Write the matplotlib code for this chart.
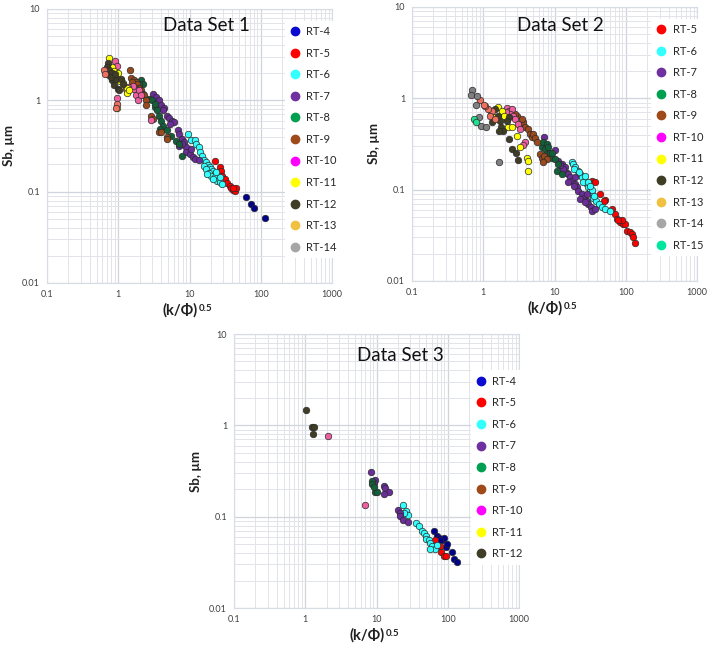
import matplotlib
matplotlib.use("Agg")
import matplotlib.pyplot as plt
from matplotlib.lines import Line2D
from matplotlib.ticker import LogLocator, NullFormatter

plt.rcParams["font.family"] = ["Lato", "DejaVu Sans"]

# ---- Data Set 1 ----
ds1_names = ["RT-4", "RT-5", "RT-6", "RT-7", "RT-8", "RT-9", "RT-10", "RT-11", "RT-12", "RT-13", "RT-14"]
ds1_rt4_x = [61.5, 74, 79.6, 114]
ds1_rt4_y = [0.087, 0.073, 0.067, 0.052]
ds1_rt5_x = [22.5, 27.1, 27.3, 28.8, 31.1, 33.9, 36.5, 38.6, 40.7, 43, 45.4, 40.7]
ds1_rt5_y = [0.214, 0.188, 0.170, 0.150, 0.138, 0.124, 0.116, 0.110, 0.103, 0.101, 0.110, 0.109]
ds1_rt6_x = [9.5, 10.6, 11.8, 12.4, 13.5, 14.1, 14.8, 15.8, 17.2, 18.1, 19.1, 20.2, 21.3,
             15.8, 17.2, 18.7, 20.2, 22.5, 24.2, 26.5, 28.8, 26.5, 23.3, 21.3, 17.5]
ds1_rt6_y = [0.423, 0.37, 0.37, 0.334, 0.307, 0.27, 0.248, 0.223, 0.21, 0.197, 0.185, 0.178, 0.168,
             0.193, 0.178, 0.16, 0.15, 0.144, 0.132, 0.127, 0.121, 0.144, 0.163, 0.138, 0.155]
ds1_rt7_x = [3.11, 3.4, 3.7, 4.0, 4.4, 4.2, 4.9, 5.2, 5.7, 6.1, 5.3, 6.8, 7.2, 7.9, 8.5, 9.0,
             9.0, 10, 11.1, 12.1, 10.6, 13.8, 7.9, 7.2]
ds1_rt7_y = [1.18, 1.09, 1.0, 0.90, 0.83, 0.78, 0.68, 0.64, 0.60, 0.58, 0.55, 0.47, 0.43, 0.38, 0.35, 0.31,
             0.27, 0.26, 0.24, 0.23, 0.29, 0.22, 0.33, 0.32]
ds1_rt8_x = [2.08, 2.2, 1.98, 2.7, 2.96, 3.3, 3.5, 3.7, 4.0, 4.2, 4.9, 5.5, 6.5, 7.2, 7.9, 3.3, 3.9]
ds1_rt8_y = [1.66, 1.52, 1.52, 1.04, 1.0, 0.85, 0.78, 0.68, 0.60, 0.53, 0.47, 0.41, 0.36, 0.33, 0.245, 0.92, 0.49]
ds1_rt9_x = [1.46, 1.5, 1.65, 1.75, 1.85, 1.98, 2.08, 2.2, 2.3, 2.45, 2.45, 2.85, 3.1, 3.7, 4.0,
             4.9, 4.9, 1.75, 1.55]
ds1_rt9_y = [2.14, 1.77, 1.69, 1.59, 1.5, 1.38, 1.29, 1.18, 1.13, 1.0, 0.88, 0.68, 0.63, 0.45, 0.45,
             0.40, 0.38, 1.34, 1.59]
ds1_rt10_x = [0.91, 0.95, 1.68, 1.75, 1.6, 1.35, 1.28, 1.9, 1.98, 2.85, 2.08, 0.97]
ds1_rt10_y = [2.7, 2.4, 1.34, 1.13, 1.42, 1.4, 1.34, 1.0, 1.29, 0.61, 1.13, 1.05]
ds1_rt11_x = [0.74, 0.83, 0.88, 0.99, 1.09, 1.17, 1.33, 1.33, 1.43, 0.96, 1.05]
ds1_rt11_y = [2.9, 2.3, 2.1, 2.0, 1.67, 1.55, 1.37, 1.2, 1.29, 0.82, 1.62]
ds1_rt12_x = [0.71, 0.69, 0.75, 0.75, 0.83, 0.88, 0.83, 0.93, 0.98, 1.03, 1.09, 1.15, 0.8, 0.9]
ds1_rt12_y = [2.57, 2.3, 2.14, 1.88, 1.66, 1.46, 2.0, 1.7, 1.34, 1.29, 1.73, 1.52, 1.8, 1.95]
ds1_rt13_x = [0.63, 0.65, 0.97, 0.93]
ds1_rt13_y = [2.17, 1.96, 0.92, 0.83]
ds1_rt14_x = []
ds1_rt14_y = []

# ---- Data Set 2 ----
ds2_names = ["RT-5", "RT-6", "RT-7", "RT-8", "RT-9", "RT-10", "RT-11", "RT-12", "RT-13", "RT-14", "RT-15"]
ds2_rt5_x = [34.1, 37, 43.6, 51.5, 48.8, 64, 69.6, 75, 84, 92, 98, 103, 115, 121, 128, 133, 88, 78]
ds2_rt5_y = [0.125, 0.12, 0.089, 0.077, 0.075, 0.061, 0.054, 0.048, 0.044, 0.042, 0.042, 0.035,
             0.034, 0.033, 0.030, 0.026, 0.046, 0.047]
ds2_rt6_x = [17.5, 18.4, 19.5, 21.2, 22.9, 24, 26.9, 28.3, 29.9, 31.6, 33.3, 35, 38, 41.5, 46, 51, 60,
             19, 25.5, 29.9, 33.8, 36.4, 22.3, 26.9, 31.6]
ds2_rt6_y = [0.203, 0.19, 0.175, 0.16, 0.148, 0.136, 0.125, 0.115, 0.106, 0.097, 0.09, 0.082, 0.075,
             0.069, 0.065, 0.061, 0.058, 0.168, 0.12, 0.12, 0.1, 0.085, 0.158, 0.142, 0.11]
ds2_rt7_x = [7.2, 10.2, 11.3, 12.6, 14.1, 14.9, 15.7, 16.6, 17.5, 19.5, 20.5, 21.7, 24, 26.2, 28.3,
             29.9, 32.5, 34, 37, 18.5, 15.7, 22.6, 26.9, 13.3, 12, 19.5, 28.3]
ds2_rt7_y = [0.373, 0.27, 0.207, 0.19, 0.175, 0.154, 0.148, 0.136, 0.125, 0.115, 0.106, 0.097, 0.089,
             0.082, 0.075, 0.069, 0.064, 0.058, 0.061, 0.11, 0.121, 0.079, 0.073, 0.167, 0.184, 0.136, 0.089]
ds2_rt8_x = [6.6, 7.4, 7.8, 8.7, 9.1, 10.2, 11.3, 7, 7.8, 10.8, 12.6, 8.2, 9.3]
ds2_rt8_y = [0.29, 0.28, 0.245, 0.25, 0.225, 0.215, 0.19, 0.33, 0.315, 0.16, 0.148, 0.29, 0.255]
ds2_rt9_x = [3.28, 3.65, 3.85, 4.3, 4.5, 4.8, 5.05, 5.3, 5.6, 6.3, 6.6, 7.2, 7.8, 6.9, 2.94, 2.8, 3.45]
ds2_rt9_y = [0.523, 0.545, 0.48, 0.46, 0.41, 0.38, 0.41, 0.37, 0.33, 0.245, 0.225, 0.235, 0.216, 0.2,
             0.645, 0.67, 0.59]
ds2_rt10_x = [2.13, 2.3, 2.5, 2.37, 2.64, 2.78, 3.1, 3.28, 3.85, 3.65, 2.06]
ds2_rt10_y = [0.78, 0.73, 0.76, 0.67, 0.645, 0.59, 0.52, 0.46, 0.33, 0.31, 0.70]
ds2_rt11_x = [1.62, 1.81, 2.13, 2.25, 2.5, 1.97, 2.94, 3.28, 4.07, 4.3, 4.2, 1.28, 1.46]
ds2_rt11_y = [0.8, 0.73, 0.59, 0.48, 0.49, 0.645, 0.39, 0.29, 0.225, 0.207, 0.16, 0.67, 0.62]
ds2_rt12_x = [1.62, 1.72, 1.77, 1.91, 1.66, 2.3, 2.5, 2.88, 3.04, 2.3, 2.13, 1.46, 1.31]
ds2_rt12_y = [0.645, 0.57, 0.48, 0.44, 0.44, 0.36, 0.28, 0.25, 0.21, 0.62, 0.57, 0.76, 0.545]
ds2_rt13_x = [1.34, 1.18, 1.24, 1.06, 1.46, 0.9, 1.03]
ds2_rt13_y = [0.73, 0.76, 0.645, 0.83, 0.59, 0.96, 0.85]
ds2_rt14_x = [0.685, 0.67, 0.81, 0.78, 0.87, 0.93, 1.11, 1.66]
ds2_rt14_y = [1.23, 1.09, 1.05, 0.845, 0.62, 0.50, 0.49, 0.2]
ds2_rt15_x = [0.75, 0.78]
ds2_rt15_y = [0.59, 0.545]

# ---- Data Set 3 ----
ds3_names = ["RT-4", "RT-5", "RT-6", "RT-7", "RT-8", "RT-9", "RT-10", "RT-11", "RT-12"]
ds3_rt4_x = [64, 70, 75, 83, 88, 93, 98, 115, 122, 133, 79]
ds3_rt4_y = [0.069, 0.061, 0.058, 0.056, 0.058, 0.047, 0.05, 0.041, 0.034, 0.032, 0.055]
ds3_rt5_x = [66, 78, 80, 88, 96]
ds3_rt5_y = [0.056, 0.048, 0.041, 0.037, 0.037]
ds3_rt6_x = [23.7, 26, 27.5, 36.4, 39.3, 43.7, 46, 50, 49, 54, 57, 60, 66, 56, 70, 24]
ds3_rt6_y = [0.134, 0.114, 0.105, 0.085, 0.079, 0.069, 0.066, 0.061, 0.057, 0.055, 0.051, 0.048,
             0.044, 0.044, 0.049, 0.111]
ds3_rt7_x = [8.4, 9.6, 12.6, 13.3, 14.8, 12.6, 9.3, 20, 21.7, 21.2, 23.4, 28]
ds3_rt7_y = [0.306, 0.252, 0.219, 0.205, 0.188, 0.177, 0.236, 0.118, 0.109, 0.102, 0.091, 0.088]
ds3_rt8_x = [8.7, 8.6, 9.4, 10.1, 9.1]
ds3_rt8_y = [0.244, 0.226, 0.188, 0.188, 0.213]
ds3_rt9_x = []
ds3_rt9_y = []
ds3_rt10_x = [2.06, 6.97]
ds3_rt10_y = [0.77, 0.133]
ds3_rt11_x = []
ds3_rt11_y = []
ds3_rt12_x = [1.03, 1.24, 1.34, 1.28]
ds3_rt12_y = [1.47, 0.97, 0.95, 0.80]

# couleurs legende / couleurs des points
LEG_COL = {"RT-4": "#0a0ad0", "RT-5": "#ff0000", "RT-6": "#33ffff", "RT-7": "#7030a0",
           "RT-8": "#00a050", "RT-9": "#a04a1a", "RT-10": "#ff00ff", "RT-11": "#ffff00",
           "RT-12": "#3f3d26", "RT-13": "#f0c040", "RT-14": "#a6a6a6", "RT-15": "#00e6a0"}
PT_COL = {"RT-4": "#00008b", "RT-5": "#ff0000", "RT-6": "#33ffff", "RT-7": "#6a2d9a",
          "RT-8": "#12603a", "RT-9": "#9a4a1c", "RT-10": "#ee5fa0", "RT-11": "#ffff00",
          "RT-12": "#3f3d26", "RT-13": "#f07060", "RT-14": "#808080", "RT-15": "#20e090"}

panels = [
    ("Data Set 1", ds1_names,
     [(ds1_rt4_x, ds1_rt4_y), (ds1_rt5_x, ds1_rt5_y), (ds1_rt6_x, ds1_rt6_y), (ds1_rt7_x, ds1_rt7_y),
      (ds1_rt8_x, ds1_rt8_y), (ds1_rt9_x, ds1_rt9_y), (ds1_rt10_x, ds1_rt10_y), (ds1_rt11_x, ds1_rt11_y),
      (ds1_rt12_x, ds1_rt12_y), (ds1_rt13_x, ds1_rt13_y), (ds1_rt14_x, ds1_rt14_y)],
     [47, 9], (0.56, 0.94), (0.835, 0.958)),
    ("Data Set 2", ds2_names,
     [(ds2_rt5_x, ds2_rt5_y), (ds2_rt6_x, ds2_rt6_y), (ds2_rt7_x, ds2_rt7_y), (ds2_rt8_x, ds2_rt8_y),
      (ds2_rt9_x, ds2_rt9_y), (ds2_rt10_x, ds2_rt10_y), (ds2_rt11_x, ds2_rt11_y), (ds2_rt12_x, ds2_rt12_y),
      (ds2_rt13_x, ds2_rt13_y), (ds2_rt14_x, ds2_rt14_y), (ds2_rt15_x, ds2_rt15_y)],
     [412, 7], (0.52, 0.934), (0.84, 0.958)),
    ("Data Set 3", ds3_names,
     [(ds3_rt4_x, ds3_rt4_y), (ds3_rt5_x, ds3_rt5_y), (ds3_rt6_x, ds3_rt6_y), (ds3_rt7_x, ds3_rt7_y),
      (ds3_rt8_x, ds3_rt8_y), (ds3_rt9_x, ds3_rt9_y), (ds3_rt10_x, ds3_rt10_y), (ds3_rt11_x, ds3_rt11_y),
      (ds3_rt12_x, ds3_rt12_y)],
     [234, 334], (0.585, 0.923), (0.83, 0.868)),
]

W, H = 709, 650
fig = plt.figure(figsize=(W / 100, H / 100), dpi=100)

for titre, noms, series, (px, py), tpos, lpos in panels:
    ax = fig.add_axes([px / W, 1 - (py + 274) / H, 285 / W, 274 / H])
    ax.set_xscale("log")
    ax.set_yscale("log")
    ax.set_xlim(0.1, 1000)
    ax.set_ylim(0.01, 10)

    for nom, (xs, ys) in zip(noms, series):
        if xs:
            ax.scatter(xs, ys, s=22, color=PT_COL[nom], edgecolors="#2a2a2a",
                       linewidths=0.5, zorder=3)

    # grille type Excel
    ax.set_xticks([0.1, 1, 10, 100, 1000])
    ax.set_xticklabels(["0.1", "1", "10", "100", "1000"])
    ax.set_yticks([0.01, 0.1, 1, 10])
    ax.set_yticklabels(["0.01", "0.1", "1", "10"])
    ax.xaxis.set_minor_locator(LogLocator(base=10, subs=range(2, 10)))
    ax.yaxis.set_minor_locator(LogLocator(base=10, subs=range(2, 10)))
    ax.xaxis.set_minor_formatter(NullFormatter())
    ax.yaxis.set_minor_formatter(NullFormatter())
    ax.grid(which="major", color="#d0d4dc", linewidth=0.9)
    ax.grid(which="minor", color="#e2e4ea", linewidth=0.7)
    ax.set_axisbelow(True)
    ax.tick_params(which="both", length=0, labelsize=6.5, labelcolor="#404040", pad=5)
    for sp in ax.spines.values():
        sp.set_color("#d6dbe6")
        sp.set_linewidth(0.8)

    ax.set_ylabel("Sb, µm", fontsize=9.5, fontweight="bold", color="#202020")
    ax.yaxis.set_label_coords(-0.112, 0.5)

    # etiquette x avec exposant
    lab = ax.text(0.53, -0.1, "(k/Φ)", transform=ax.transAxes, ha="right", va="center",
                  fontsize=10.5, fontweight="bold", color="#202020")
    ax.annotate("0.5", xy=(1, 0.95), xycoords=lab, xytext=(0.5, 0), textcoords="offset points",
                ha="left", va="top", fontsize=7, fontweight="bold", color="#202020")

    ax.text(tpos[0], tpos[1], titre, transform=ax.transAxes, ha="center", va="center",
            fontsize=13.5, color="#111111")

    handles = [Line2D([], [], linestyle="none", marker="o", markersize=6,
                      markerfacecolor=LEG_COL[n], markeredgecolor=LEG_COL[n], label=n)
               for n in noms]
    leg = ax.legend(handles=handles, loc="upper left", bbox_to_anchor=lpos,
                    fontsize=8, labelspacing=0.95, handlelength=0.8, handletextpad=0.6,
                    borderpad=0.5, frameon=True, framealpha=1, facecolor="white",
                    edgecolor="none", fancybox=False, borderaxespad=0)
    for t in leg.get_texts():
        t.set_color("#262626")
    leg.set_zorder(5)

fig.savefig("out.png", dpi=100, facecolor="white")
